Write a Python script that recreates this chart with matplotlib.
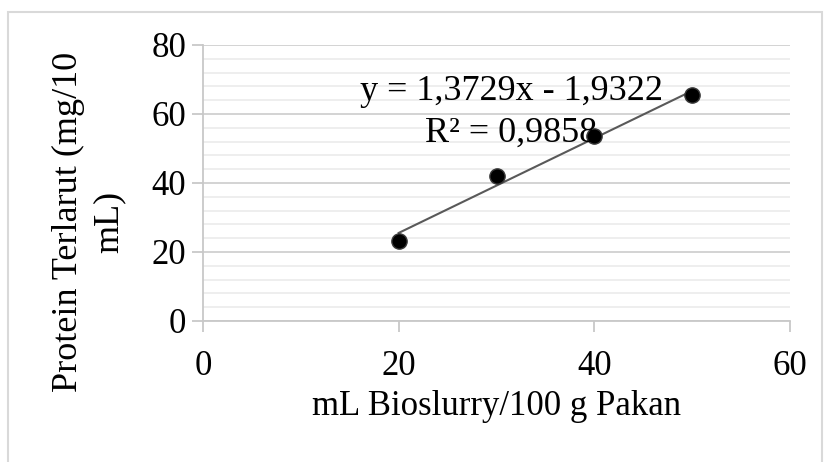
import numpy as np
import matplotlib.pyplot as plt
from matplotlib.patches import Rectangle
from matplotlib.ticker import MultipleLocator

# data
dose = [20, 30, 40, 50]
protein = [23.3, 42.1, 53.6, 65.5]
eq_text = "y = 1,3729x - 1,9322\nR² = 0,9858"
slope, intercept = 1.3729, -1.9322

plt.rcParams['font.family'] = ['Liberation Serif', 'DejaVu Serif']

fig = plt.figure(figsize=(8.27, 4.62), dpi=100)
fig.patches.append(Rectangle((8 / 827, -0.1), 814 / 827, 1.1 - 12 / 462,
                             transform=fig.transFigure, fill=False,
                             edgecolor='#d9d9d9', linewidth=1.5))

ax = fig.add_axes([0.2455, 0.3052, 0.7098, 0.5974])
ax.set_xlim(0, 60)
ax.set_ylim(0, 80)
ax.xaxis.set_major_locator(MultipleLocator(20))
ax.yaxis.set_major_locator(MultipleLocator(20))
ax.yaxis.set_minor_locator(MultipleLocator(4))

ax.grid(axis='y', which='major', color='#d0d0d0', linewidth=1.3)
ax.grid(axis='y', which='minor', color='#ededed', linewidth=1.3)
ax.set_axisbelow(True)

for side in ['top', 'right']:
    ax.spines[side].set_visible(False)
for side in ['left', 'bottom']:
    ax.spines[side].set_color('#c8c8c8')
    ax.spines[side].set_linewidth(1.3)

ax.tick_params(axis='both', which='major', labelsize=25, color='#c8c8c8',
               length=8, width=1.3, direction='out')
ax.tick_params(axis='y', which='minor', length=0)
ax.tick_params(axis='x', pad=13)
ax.tick_params(axis='y', pad=4)

fit_x = np.array([dose[0], dose[-1]])
ax.plot(fit_x, slope * fit_x + intercept, color='#595959', linewidth=1.5, zorder=3)
ax.plot(dose, protein, 'o', color='black', markersize=11,
        markeredgecolor='#3a3a3a', zorder=4)

ax.text(31.5, 60.5, eq_text, fontsize=26, ha='center', va='center',
        linespacing=1.35, zorder=5)

ax.set_xlabel('mL Bioslurry/100 g Pakan', fontsize=25, labelpad=5)
fig.text(89 / 827, 1 - 222 / 462, 'Protein Terlarut (mg/10\nmL)', fontsize=26,
         rotation=90, ha='center', va='center', linespacing=1.3,
         multialignment='center')

fig.savefig('out.png', dpi=100)
